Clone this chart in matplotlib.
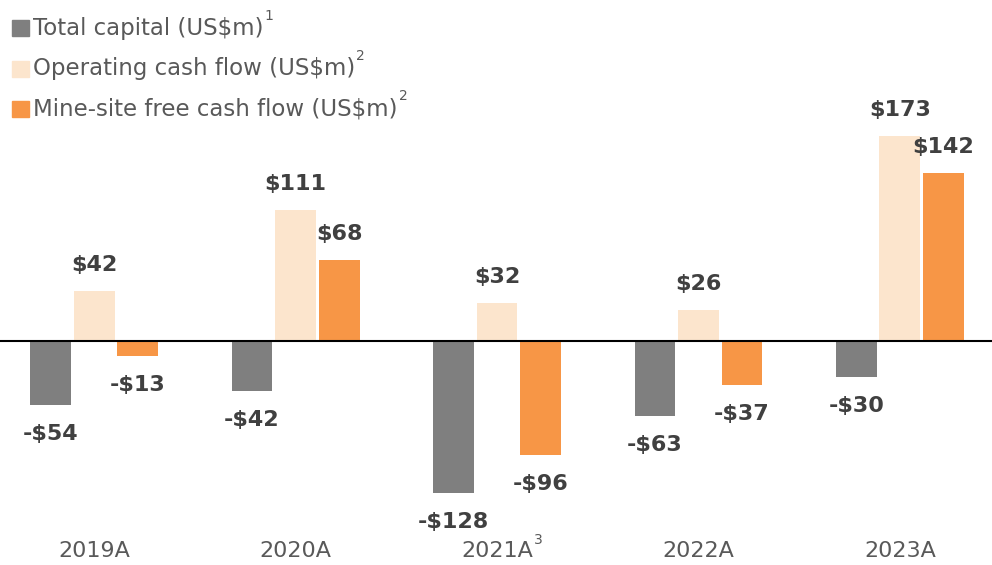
import numpy as np
import matplotlib
matplotlib.use("Agg")
import matplotlib.pyplot as plt
from matplotlib.patches import Rectangle

# data (US$m)
years = ["2019A", "2020A", "2021A", "2022A", "2023A"]
year_notes = ["", "", "3", "", ""]
total_capital = [-54, -42, -128, -63, -30]
operating_cf = [42, 111, 32, 26, 173]
free_cf = [-13, 68, -96, -37, 142]

series_names = ["Total capital (US$m)", "Operating cash flow (US$m)",
                "Mine-site free cash flow (US$m)"]
series_notes = ["1", "2", "2"]
colors = ["#7f7f7f", "#fce5cd", "#f79646"]

plt.rcParams["font.family"] = ["DejaVu Sans"]
text_grey = "#595959"
label_grey = "#404040"

fig = plt.figure(figsize=(9.92, 5.65), dpi=100)
ax = fig.add_axes([0, 0, 1, 1])
ax.set_xlim(-0.467, 4.457)
ax.set_ylim(-189, 287.8)
ax.axis("off")

x = np.arange(len(years))
width = 0.203
step = 0.216
px_per_unit = 565 / (287.8 + 189)

for i, (vals, col) in enumerate(zip([total_capital, operating_cf, free_cf], colors)):
    xs = x + (i - 1) * step
    ax.bar(xs, vals, width=width, color=col, zorder=2)
    for xi, v in zip(xs, vals):
        sign = "-" if v < 0 else ""
        off = 26 if v >= 0 else -29
        ax.text(xi, v + off / px_per_unit, f"{sign}${abs(v)}", ha="center", va="center",
                fontsize=16, fontweight="bold", color=label_grey)

ax.axhline(0, color="black", lw=1.5, zorder=3)

fig.canvas.draw()
renderer = fig.canvas.get_renderer()
W, H = fig.bbox.width, fig.bbox.height


def add_note(txt, note):
    # small superscript placed just after the end of a text
    bb = txt.get_window_extent(renderer)
    fig.text((bb.x1 + 1) / W, (bb.y1 - 6) / H, note, fontsize=10,
             color=text_grey, ha="left", va="bottom")


# year labels under the groups
for xi, yr, note in zip(x, years, year_notes):
    t = ax.text(xi, -(551 - 341) / px_per_unit, yr, ha="center", va="center",
                fontsize=16, color=text_grey)
    if note:
        add_note(t, note)

# legend
rows_y = [28, 69, 109]
for name, note, col, yp in zip(series_names, series_notes, colors, rows_y):
    fig.patches.append(Rectangle((12 / W, 1 - (yp + 8) / H), 17 / W, 16 / H,
                                 transform=fig.transFigure, color=col))
    t = fig.text(33 / W, 1 - yp / H, name, ha="left", va="center",
                 fontsize=16.5, color=text_grey)
    add_note(t, note)

fig.savefig("out.png", dpi=100)
